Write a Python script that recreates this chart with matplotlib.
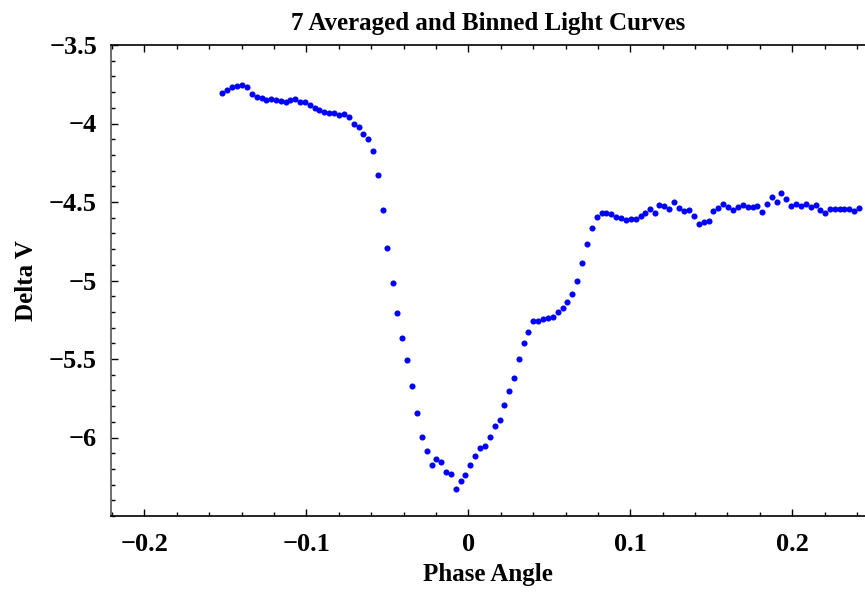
import matplotlib
matplotlib.use("Agg")
import matplotlib.pyplot as plt
from matplotlib.ticker import MultipleLocator, FuncFormatter

# binned light curve
phase = [-0.1522, -0.1491, -0.1460, -0.1430, -0.1399, -0.1368, -0.1337, -0.1306, -0.1275, -0.1247,
         -0.1218, -0.1189, -0.1158, -0.1127, -0.1099, -0.1068, -0.1039, -0.1008, -0.0979, -0.0948,
         -0.0920, -0.0889, -0.0858, -0.0829, -0.0798, -0.0767, -0.0738, -0.0707, -0.0677, -0.0648,
         -0.0617, -0.0588, -0.0556, -0.0528, -0.0500, -0.0467, -0.0438, -0.0409, -0.0378, -0.0349,
         -0.0317, -0.0288, -0.0257, -0.0226, -0.0198, -0.0167, -0.0138, -0.0109, -0.0078, -0.0047,
         -0.0019, 0.0012, 0.0043, 0.0072, 0.0103, 0.0132, 0.0163, 0.0194, 0.0222, 0.0253,
         0.0280, 0.0311, 0.0342, 0.0369, 0.0401, 0.0432, 0.0463, 0.0492, 0.0521, 0.0552,
         0.0583, 0.0611, 0.0642, 0.0673, 0.0704, 0.0733, 0.0764, 0.0793, 0.0823, 0.0852,
         0.0883, 0.0912, 0.0943, 0.0973, 0.1004, 0.1035, 0.1064, 0.1093, 0.1122, 0.1151,
         0.1179, 0.1210, 0.1241, 0.1272, 0.1302, 0.1333, 0.1362, 0.1393, 0.1422, 0.1453,
         0.1484, 0.1512, 0.1543, 0.1572, 0.1603, 0.1634, 0.1663, 0.1694, 0.1725, 0.1756,
         0.1784, 0.1815, 0.1844, 0.1873, 0.1904, 0.1932, 0.1963, 0.1994, 0.2023, 0.2054,
         0.2083, 0.2114, 0.2144, 0.2173, 0.2202, 0.2231, 0.2262, 0.2292, 0.2321, 0.2352,
         0.2383, 0.2412]

delta_v = [-3.803, -3.786, -3.769, -3.759, -3.756, -3.769, -3.812, -3.829, -3.839, -3.848,
           -3.842, -3.852, -3.854, -3.861, -3.852, -3.845, -3.861, -3.865, -3.880, -3.901,
           -3.912, -3.928, -3.933, -3.933, -3.947, -3.939, -3.960, -4.001, -4.022, -4.064,
           -4.100, -4.174, -4.327, -4.548, -4.791, -5.016, -5.205, -5.364, -5.508, -5.669,
           -5.847, -5.998, -6.089, -6.178, -6.134, -6.155, -6.221, -6.233, -6.329, -6.280,
           -6.242, -6.174, -6.115, -6.070, -6.051, -5.998, -5.928, -5.890, -5.796, -5.703,
           -5.623, -5.499, -5.396, -5.330, -5.258, -5.260, -5.245, -5.241, -5.235, -5.198,
           -5.177, -5.135, -5.084, -5.003, -4.891, -4.770, -4.664, -4.596, -4.573, -4.571,
           -4.577, -4.594, -4.602, -4.615, -4.607, -4.607, -4.588, -4.572, -4.543, -4.569,
           -4.516, -4.524, -4.545, -4.503, -4.540, -4.556, -4.554, -4.590, -4.637, -4.630,
           -4.624, -4.560, -4.541, -4.511, -4.529, -4.552, -4.529, -4.518, -4.529, -4.529,
           -4.524, -4.564, -4.510, -4.465, -4.499, -4.443, -4.478, -4.524, -4.511, -4.524,
           -4.513, -4.535, -4.516, -4.554, -4.571, -4.545, -4.545, -4.545, -4.543, -4.545,
           -4.560, -4.537]

x_ticks = [-0.2, -0.1, 0.0, 0.1, 0.2]
y_ticks = [-6.0, -5.5, -5.0, -4.5, -4.0, -3.5]

plt.rcParams["font.family"] = ["Liberation Serif", "DejaVu Serif"]
plt.rcParams["font.weight"] = "bold"

fig = plt.figure(figsize=(8.65, 5.92), dpi=100)
ax = fig.add_axes([111 / 865, 1 - 516 / 592, 1 - 111 / 865, (516 - 45) / 592])

ax.plot(phase, delta_v, "o", color="#0000ff", markersize=4.4, markeredgewidth=0, clip_on=False)

ax.set_xlim(-0.2206, 0.2449)
ax.set_ylim(-6.5, -3.5)

ax.set_xticks(x_ticks)
ax.set_yticks(y_ticks)
ax.xaxis.set_minor_locator(MultipleLocator(0.02))
ax.yaxis.set_minor_locator(MultipleLocator(0.1))


def fmt(v, pos):
    if abs(v) < 1e-9:
        return "0"
    s = "%g" % v
    return s.replace("-", "\u2212")


ax.xaxis.set_major_formatter(FuncFormatter(fmt))
ax.yaxis.set_major_formatter(FuncFormatter(fmt))

ax.spines["right"].set_visible(False)
for side in ["left", "bottom", "top"]:
    ax.spines[side].set_linewidth(1.2)
ax.spines["left"].set_color("#555555")

ax.tick_params(which="both", direction="in", top=True, right=False, width=1.0, labelsize=19)
ax.tick_params(which="major", length=5)
ax.tick_params(which="minor", length=3)
ax.tick_params(axis="x", pad=12)
ax.tick_params(axis="y", pad=10)

ax.set_title("7 Averaged and Binned Light Curves", fontsize=18, fontweight="bold", pad=11)
ax.set_xlabel("Phase Angle", fontsize=18, fontweight="bold", labelpad=5)
ax.set_ylabel("Delta V", fontsize=18, fontweight="bold", labelpad=8)

fig.savefig("out.png", dpi=100)
